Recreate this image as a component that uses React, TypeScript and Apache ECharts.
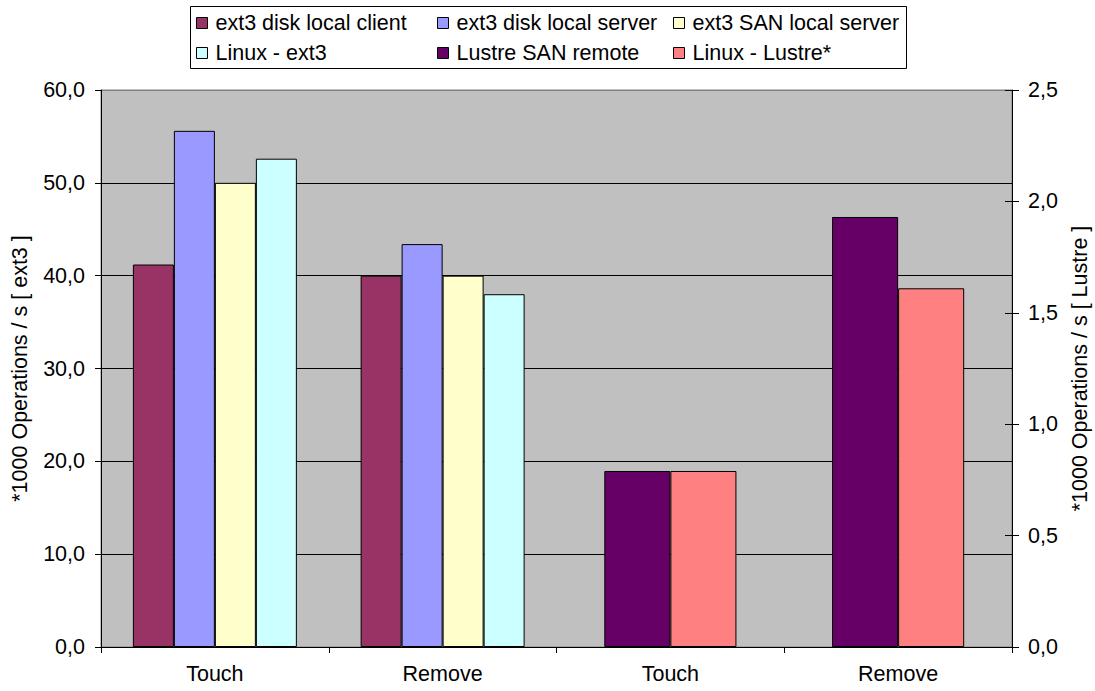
import React, { useEffect, useRef } from "react";
import * as echarts from "echarts";

const categories = ["Touch", "Remove", "Touch", "Remove"];
const ext3DiskLocalClient = [41.2, 40.0, null, null];
const ext3DiskLocalServer = [55.6, 43.4, null, null];
const ext3SanLocalServer = [50.0, 40.0, null, null];
const linuxExt3 = [52.6, 38.0, null, null];
const lustreSanRemote = [null, null, 0.79, 1.93];
const linuxLustre = [null, null, 0.79, 1.61];

const seriesNames = [
  "ext3 disk local client",
  "ext3 disk local server",
  "ext3 SAN local server",
  "Linux - ext3",
  "Lustre SAN remote",
  "Linux - Lustre*",
];
const seriesColors = ["#993366", "#9999FF", "#FFFFCC", "#CCFFFF", "#660066", "#FF8080"];

const FONT = 'Arial, "Liberation Sans", sans-serif';
const FS = 21.5;

const fmt = (v: number) => v.toFixed(1).replace(".", ",");

export default function App() {
  const ref = useRef<HTMLDivElement>(null);
  useEffect(() => {
    if (!ref.current) return;
    const chart = echarts.init(ref.current, null, { renderer: "svg" });
    const ext3Data = [ext3DiskLocalClient, ext3DiskLocalServer, ext3SanLocalServer, linuxExt3];
    const lustreData = [lustreSanRemote, linuxLustre];

    const legendPos = [
      [196, 12],
      [437, 12],
      [673, 12],
      [196, 42],
      [437, 42],
      [673, 42],
    ];

    const series: any[] = [];
    ext3Data.forEach((d, i) => {
      series.push({
        name: seriesNames[i],
        type: "bar",
        xAxisIndex: 0,
        yAxisIndex: 0,
        data: d,
        barGap: "0%",
        barCategoryGap: "28%",
        itemStyle: { color: seriesColors[i], borderColor: "#000", borderWidth: 1 },
      });
    });
    lustreData.forEach((d, j) => {
      const i = j + 4;
      series.push({
        name: seriesNames[i],
        type: "bar",
        xAxisIndex: 1,
        yAxisIndex: 1,
        data: d,
        barGap: "0%",
        barCategoryGap: "42%",
        itemStyle: { color: seriesColors[i], borderColor: "#000", borderWidth: 1 },
      });
    });

    const legends = seriesNames.map((n, i) => ({
      data: [{ name: n, icon: "rect" }],
      left: legendPos[i][0],
      top: legendPos[i][1],
      orient: "horizontal",
      padding: 0,
      itemWidth: 11,
      itemHeight: 11,
      selectedMode: false,
      itemStyle: { borderColor: "#000", borderWidth: 1 },
      textStyle: {
        fontSize: FS,
        fontFamily: FONT,
        color: "#000",
        lineHeight: 22,
        padding: [0, 0, 0, 3],
      },
    }));

    chart.setOption({
      animation: false,
      backgroundColor: "#fff",
      textStyle: { fontFamily: FONT },
      graphic: [
        {
          type: "rect",
          z: 0,
          shape: { x: 190.5, y: 6.5, width: 716, height: 62 },
          style: { fill: "#fff", stroke: "#000", lineWidth: 1 },
        },
      ],
      legend: legends,
      grid: {
        left: 101,
        right: 83,
        top: 90,
        bottom: 44,
        containLabel: false,
        outerBoundsMode: "none",
        show: true,
        backgroundColor: "#C0C0C0",
        borderColor: "#808080",
        borderWidth: 1,
      },
      xAxis: [
        {
          type: "category",
          data: categories,
          position: "bottom",
          axisLine: { show: true, lineStyle: { color: "#000", width: 1 } },
          axisTick: { show: true, length: 6, lineStyle: { color: "#000" } },
          axisLabel: { margin: 16, fontSize: FS, color: "#000", fontFamily: FONT },
          splitLine: { show: false },
          z: 5,
        },
        {
          type: "category",
          data: categories,
          show: false,
        },
      ],
      yAxis: [
        {
          type: "value",
          min: 0,
          max: 60,
          interval: 10,
          position: "left",
          name: "*1000 Operations / s [ ext3 ]",
          nameLocation: "middle",
          nameRotate: 90,
          nameGap: 70,
          nameTextStyle: { fontSize: FS, color: "#000", fontFamily: FONT },
          axisLine: { show: true, lineStyle: { color: "#000", width: 1 } },
          axisTick: { show: true, length: 6, lineStyle: { color: "#000" } },
          axisLabel: { margin: 16, fontSize: FS, color: "#000", fontFamily: FONT, formatter: fmt },
          splitLine: {
            show: true,
            lineStyle: {
              color: ["#000", "#000", "#000", "#000", "#000", "#000", "#808080"],
              width: 1,
            },
          },
        },
        {
          type: "value",
          min: 0,
          max: 2.5,
          interval: 0.5,
          position: "right",
          name: "*1000 Operations / s [ Lustre ]",
          nameLocation: "middle",
          nameRotate: 90,
          nameGap: 55,
          nameTextStyle: { fontSize: FS, color: "#000", fontFamily: FONT },
          axisLine: { show: true, lineStyle: { color: "#000", width: 1 } },
          axisTick: { show: true, length: 7, lineStyle: { color: "#000" } },
          axisLabel: { margin: 16, fontSize: FS, color: "#000", fontFamily: FONT, formatter: fmt },
          splitLine: { show: false },
        },
        {
          type: "value",
          min: 0,
          max: 2.5,
          interval: 0.5,
          position: "right",
          axisLine: { show: false },
          axisTick: { show: true, inside: true, length: 7, lineStyle: { color: "#000" } },
          axisLabel: { show: false },
          splitLine: { show: false },
        },
      ],
      series,
    });
    return () => chart.dispose();
  }, []);
  return (
    <div
      ref={ref}
      style={{ position: "absolute", left: 0, top: 0, width: 1095, height: 691 }}
    />
  );
}
